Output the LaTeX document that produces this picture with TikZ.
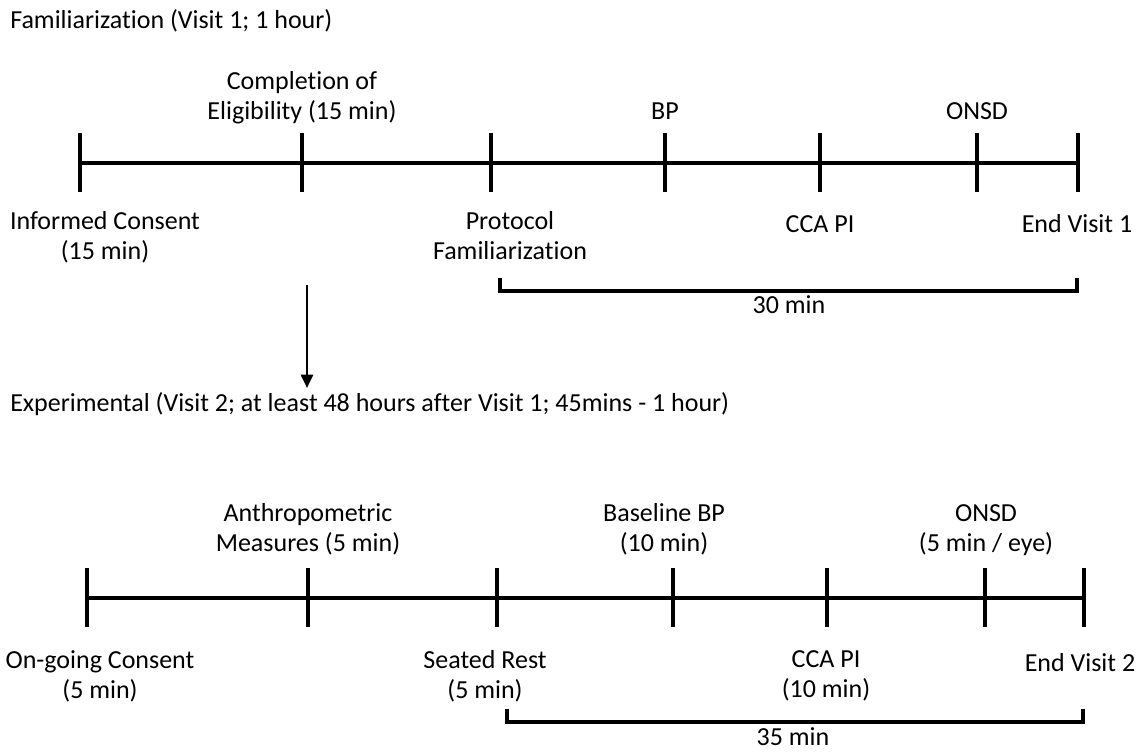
\documentclass[tikz,border=0pt]{standalone}
\usepackage{fontspec}
\setmainfont{Carlito}[Ligatures=NoCommon]
\usetikzlibrary{arrows.meta}
\tikzset{
    time-line/.style = {draw=black, line width=2.6pt},
    time-label/.style = {font=\fontsize{19.5}{22.5}\selectfont, align=center, inner sep=0pt,
        execute at begin node=\strut, execute at end node=\strut},
    above-label/.style = {time-label, anchor=south},
    below-label/.style = {time-label, anchor=north},
    span-label/.style = {font=\fontsize{19.5}{22.5}\selectfont, anchor=base, inner sep=0pt},
    phase-title/.style = {font=\fontsize{19.5}{22.5}\selectfont, anchor=base west, inner sep=0pt},
}

\begin{document}
\begin{tikzpicture}[x=0.75pt, y=-0.75pt]
\useasboundingbox (0,0) rectangle (1146,751);

% Visit 1
\node[phase-title] (title-fam) at (10,28) {Familiarization (Visit 1; 1 hour)};
\foreach \x [count=\i] in {80,302,491,665,820,977,1078} {
    \coordinate (a\i) at (\x,163);
    \draw[time-line] (a\i) ++(0,-30) -- ++(0,59);
}
\draw[time-line] (a1) -- (a7);

\node[above-label] (eligibility) at (302,129) {Completion of\\Eligibility (15 min)};
\node[above-label] (bp) at (665,129) {BP};
\node[above-label] (onsd-1) at (977,129) {ONSD};
\node[below-label] (consent) at (105,211) {Informed Consent\\(15 min)};
\node[below-label] (protocol) at (510,211) {Protocol\\Familiarization};
\node[below-label] (cca-1) at (820,211) {CCA PI};
\node[below-label] (end-1) at (1077,211) {End Visit 1};

\coordinate (span1-l) at (500,278);
\coordinate (span1-r) at (1077,278);
\draw[time-line] (span1-l) -- ++(0,13) -| (span1-r);
\node[span-label] (span1) at (789,313) {30 min};

% on to visit 2
\coordinate (down-top) at (307,285);
\coordinate (down-end) at (307,388);
\draw[time-line, line width=2pt, -{Triangle[length=10pt, width=9pt]}] (down-top) -- (down-end);

% Visit 2
\node[phase-title] (title-exp) at (10,411) {Experimental (Visit 2; at least 48 hours after Visit 1; 45mins - 1 hour)};
\foreach \x [count=\i] in {87,308,497,673,827,985,1084} {
    \coordinate (b\i) at (\x,598);
    \draw[time-line] (b\i) ++(0,-30) -- ++(0,59);
}
\draw[time-line] (b1) -- (b7);

\node[above-label] (anthro) at (308,561) {Anthropometric\\Measures (5 min)};
\node[above-label] (baseline) at (664,561) {Baseline BP\\(10 min)};
\node[above-label] (onsd-2) at (986,561) {ONSD\\(5 min / eye)};
\node[below-label] (ongoing) at (100,650) {On-going Consent\\(5 min)};
\node[below-label] (seated) at (485,650) {Seated Rest\\(5 min)};
\node[below-label] (cca-2) at (826,650) {CCA PI\\(10 min)};
\node[below-label] (end-2) at (1080,650) {End Visit 2};

\coordinate (span2-l) at (507,709);
\coordinate (span2-r) at (1083,709);
\draw[time-line] (span2-l) -- ++(0,13) -| (span2-r);
\node[span-label] (span2) at (793,745) {35 min};
\end{tikzpicture}
\end{document}
